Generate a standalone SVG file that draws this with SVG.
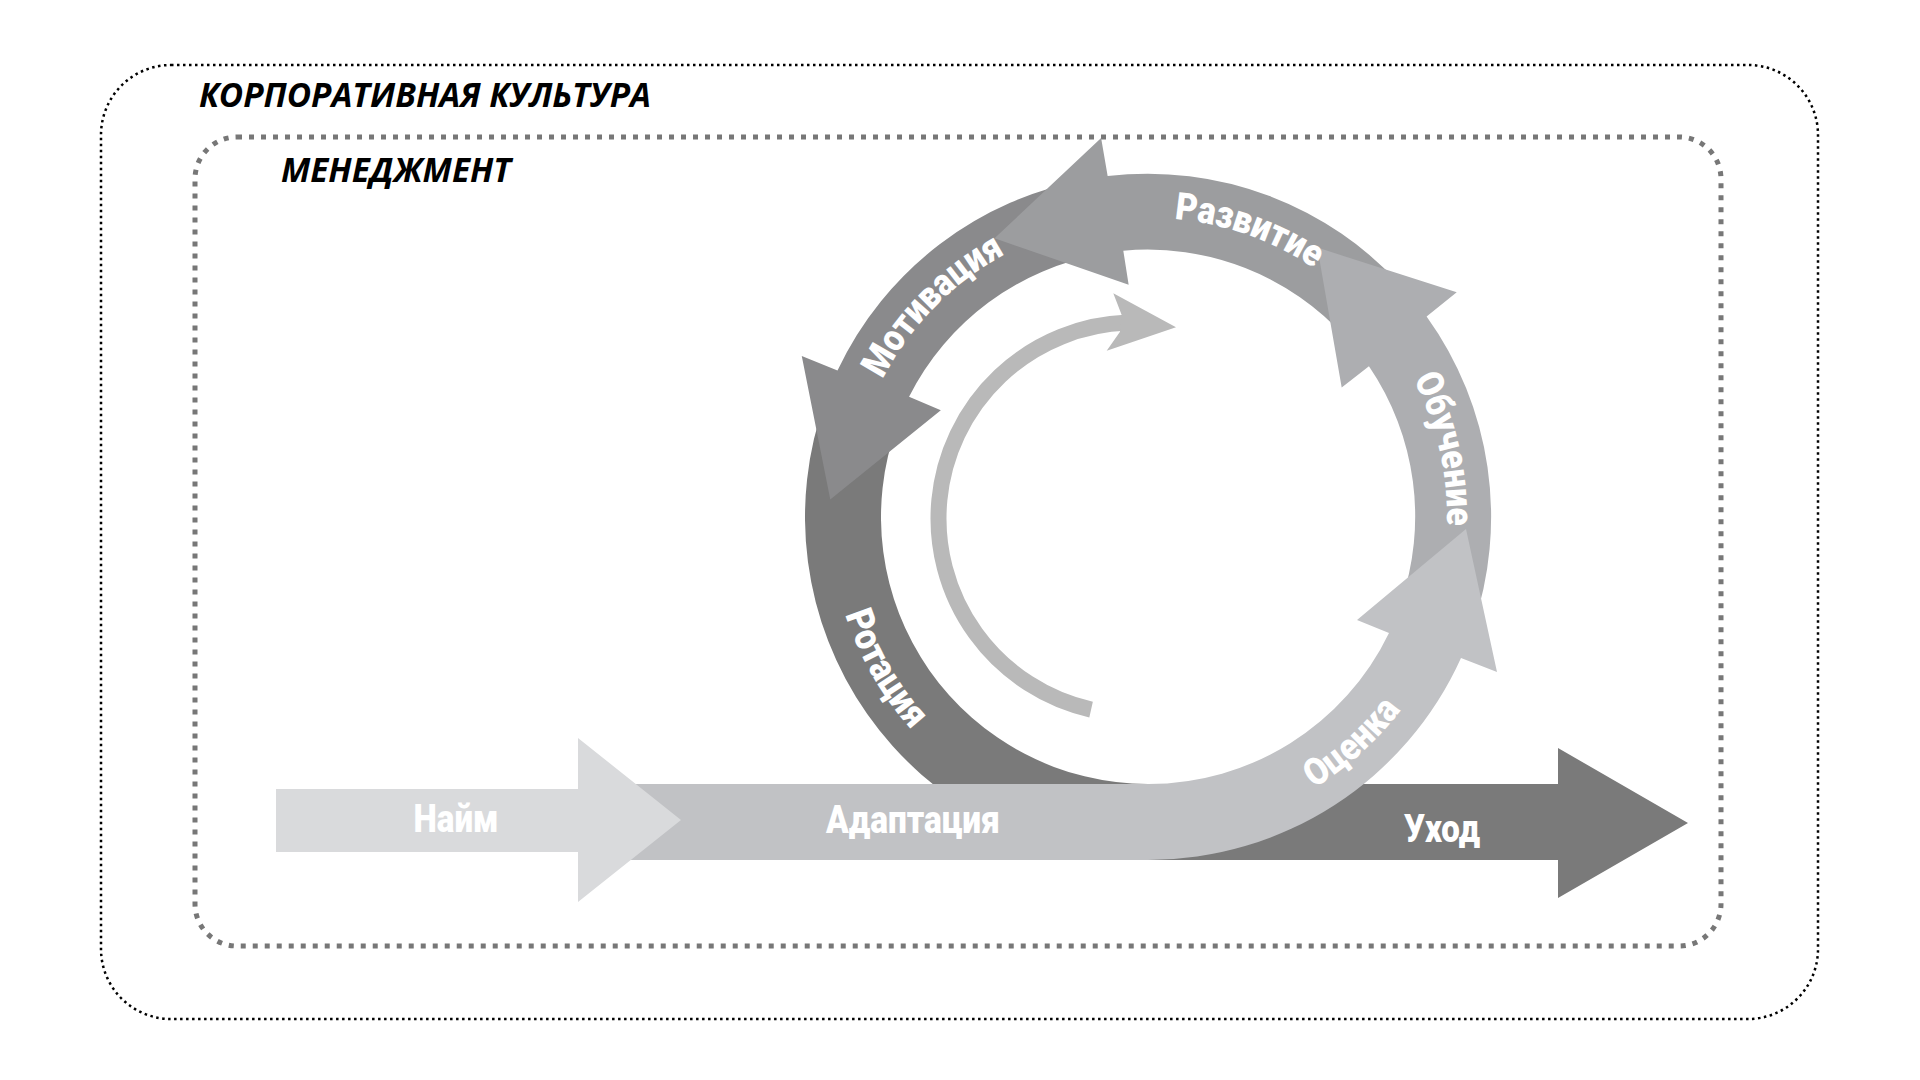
<svg xmlns="http://www.w3.org/2000/svg" xmlns:xlink="http://www.w3.org/1999/xlink" width="1920" height="1080" viewBox="0 0 1920 1080">
  <style>
    .title { font-family: "Open Sans", "Liberation Sans", sans-serif; font-weight: 700; font-style: italic; font-size: 34px; fill: #000; }
    .lbl { font-family: Roboto, "Liberation Sans", sans-serif; font-weight: 900; font-size: 38px; fill: #ffffff; }
    .frame-outer { fill: none; stroke: #000; stroke-width: 2.5; stroke-dasharray: 2.5 3.5; }
    .frame-inner { fill: none; stroke: #777; stroke-width: 5; stroke-dasharray: 5 7; }
  </style>
  <defs>
    <path id="seg" d="M1198.95,779.09 A267,267 0 0 0 1389,633 L1357,620 L1466,529 L1497,672 L1461,658 A343,343 0 0 1 1213.45,853.7 Z"/>
    <path id="cw" d="M849,517 A299,299 0 1 1 1447,517 A299,299 0 1 1 849,517"/>
    <path id="ccw" d="M830,517 A318,318 0 1 0 1466,517 A318,318 0 1 0 830,517"/>
  </defs>
  <rect width="1920" height="1080" fill="#fff"/>

  <g id="culture">
    <rect class="frame-outer" x="101" y="65" width="1717" height="954" rx="70" ry="70"/>
    <text class="title" x="199" y="107" textLength="452" lengthAdjust="spacingAndGlyphs">КОРПОРАТИВНАЯ КУЛЬТУРА</text>
  </g>
  <g id="management">
    <rect class="frame-inner" x="195" y="137" width="1526" height="809" rx="42" ry="42"/>
    <text class="title" x="281" y="182" textLength="230" lengthAdjust="spacingAndGlyphs">МЕНЕДЖМЕНТ</text>
  </g>

  <g id="rotation-exit">
    <path fill="#7a7a7a" d="M825.69,399.69 A343,343 0 0 0 1148,860 H1558 V898 L1688,823 L1558,748 V784 H1148 A267,267 0 0 1 897.1,425.68 Z"/>
  </g>
  <g id="motivation">
    <use xlink:href="#seg" href="#seg" fill="#8a8a8c" transform="rotate(-179 1148 517)"/>
  </g>
  <g id="development">
    <use xlink:href="#seg" href="#seg" fill="#9c9d9f" transform="rotate(-121 1148 517)"/>
  </g>
  <g id="training">
    <use xlink:href="#seg" href="#seg" fill="#adaeb1" transform="rotate(-60 1148 517)"/>
  </g>
  <g id="adaptation-evaluation">
    <path fill="#c1c2c5" d="M620,784 H1148 A267,267 0 0 0 1389,633 L1357,620 L1466,529 L1497,672 L1461,658 A343,343 0 0 1 1148,860 H620 Z"/>
  </g>
  <g id="hiring">
    <path fill="#d9dadc" d="M276,789 H578 V738 L681,820 L578,902 V852 H276 Z"/>
  </g>

  <g id="connectors">
    <path d="M1091.08,709.63 A196,196 0 0 1 1127.66,322.62" fill="none" stroke="#b9b9b9" stroke-width="16"/>
    <polygon fill="#b9b9b9" points="1121.7,315 1113.3,293.3 1176,327.3 1106.7,350.7 1120,331.7"/>
  </g>

  <g id="labels">
    <text class="lbl" x="456" y="832" text-anchor="middle" textLength="85" lengthAdjust="spacingAndGlyphs">Найм</text>
    <text class="lbl" x="913" y="833" text-anchor="middle" textLength="174" lengthAdjust="spacingAndGlyphs">Адаптация</text>
    <text class="lbl" x="1442" y="842" text-anchor="middle" textLength="76" lengthAdjust="spacingAndGlyphs">Уход</text>
    <text class="lbl" text-anchor="middle"><textPath xlink:href="#ccw" href="#ccw" startOffset="733" textLength="118" lengthAdjust="spacingAndGlyphs">Оценка</textPath></text>
    <text class="lbl" text-anchor="middle"><textPath xlink:href="#cw" href="#cw" startOffset="872" textLength="152" lengthAdjust="spacingAndGlyphs">Обучение</textPath></text>
    <text class="lbl" text-anchor="middle"><textPath xlink:href="#cw" href="#cw" startOffset="571" textLength="150" lengthAdjust="spacingAndGlyphs">Развитие</textPath></text>
    <text class="lbl" text-anchor="middle"><textPath xlink:href="#cw" href="#cw" startOffset="232" textLength="178" lengthAdjust="spacingAndGlyphs">Мотивация</textPath></text>
    <text class="lbl" text-anchor="middle"><textPath xlink:href="#ccw" href="#ccw" startOffset="166" textLength="134" lengthAdjust="spacingAndGlyphs">Ротация</textPath></text>
  </g>
</svg>
